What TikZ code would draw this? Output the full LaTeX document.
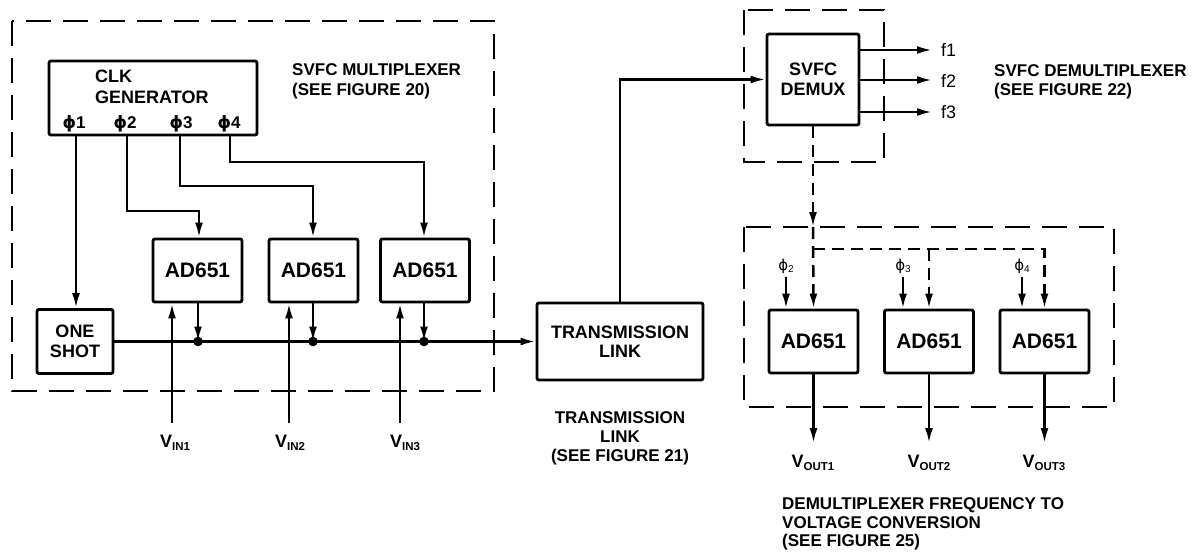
\documentclass[tikz,border=0pt]{standalone}
\usepackage{fontspec}
\setmainfont{Liberation Sans}
\newfontfamily\phifont{DejaVu Sans}
\usetikzlibrary{arrows.meta}
\newcommand\mysubtxt[2]{#1\raisebox{-3pt}{\fontsize{11.5}{12}\selectfont #2}}
\newcommand\myphi{{\phifont ϕ}}
\tikzset{
 blk/.style={draw, line width=2.9pt, rounded corners=2pt, inner sep=0pt, align=center, font=\bfseries\fontsize{18}{19.5}\selectfont},
 adbox/.style={blk, font=\bfseries\fontsize{21}{23}\selectfont, minimum width=89pt, minimum height=63pt},
 grp/.style={draw, line width=2.8pt, dash pattern=on 25pt off 12pt},
 wire/.style={line width=2.5pt},
 arr/.style={wire, -{Latex[length=15pt,width=8pt]}},
 darr/.style={arr, dash pattern=on 12pt off 7pt},
 lbl/.style={font=\bfseries\fontsize{17}{19}\selectfont, inner sep=0pt},
 sml/.style={font=\fontsize{15}{17}\selectfont, inner sep=0pt},
}
\begin{document}
\begin{tikzpicture}[x=1pt,y=-1pt]
\useasboundingbox (0,0) rectangle (1203,557);
% dashed groups
\draw[grp] (12,21) rectangle (494,391);
\draw[grp] (744,10) rectangle (884,162);
\draw[grp] (744,227) rectangle (1114,407);

% ---------- multiplexer ----------
\node[blk, minimum width=208pt, minimum height=74pt] (clk) at (153,98) {};
\node[lbl, font=\bfseries\fontsize{18}{20}\selectfont, anchor=base west] (clkt1) at (95,82) {CLK};
\node[lbl, font=\bfseries\fontsize{18}{20}\selectfont, anchor=base west] (clkt2) at (95,103) {GENERATOR};
\node[lbl, anchor=base] (ph1) at (74,128) {\myphi 1};
\node[lbl, anchor=base] (ph2) at (125,128) {\myphi 2};
\node[lbl, anchor=base] (ph3) at (181,128) {\myphi 3};
\node[lbl, anchor=base] (ph4) at (229,128) {\myphi 4};

\node[blk, minimum width=76pt, minimum height=64pt] (os) at (75,341.5) {ONE\\SHOT};
\node[adbox] (m1) at (197.5,270.5) {AD651};
\node[adbox] (m2) at (313.5,270.5) {AD651};
\node[adbox] (m3) at (425,270.5) {AD651};

\coordinate (p1) at (76,0);
\coordinate (p2) at (127,0);
\coordinate (p3) at (180,0);
\coordinate (p4) at (230,0);
\coordinate (a2) at (199,211);
\coordinate (a3) at (313,186);
\coordinate (a4) at (424,162);

\draw[arr] (clk.south -| p1) -- (os.north -| p1);
\draw[arr] (clk.south -| p2) |- (a2) -- (m1.north -| a2);
\draw[arr] (clk.south -| p3) |- (a3) -- (m2.north -| a3);
\draw[arr] (clk.south -| p4) |- (a4) -- (m3.north -| a4);

\node[blk, minimum width=166pt, minimum height=77pt] (tl) at (620,341.5) {TRANSMISSION\\LINK};
\draw[arr] (os.east) -- (os.east -| tl.west);

\coordinate (d1) at (198,341.5);
\coordinate (d2) at (313,341.5);
\coordinate (d3) at (424,341.5);
\draw[arr] (m1.south -| d1) -- (d1);
\draw[arr] (m2.south -| d2) -- (d2);
\draw[arr] (m3.south -| d3) -- (d3);
\fill (d1) circle (4.8pt);
\fill (d2) circle (4.8pt);
\fill (d3) circle (4.8pt);

\coordinate (v1) at (172,423);
\coordinate (v2) at (289,423);
\coordinate (v3) at (400,423);
\draw[arr] (v1) -- (m1.south -| v1);
\draw[arr] (v2) -- (m2.south -| v2);
\draw[arr] (v3) -- (m3.south -| v3);
\node[lbl, font=\bfseries\fontsize{18}{20}\selectfont, anchor=base] (vin1) at (175,447) {\mysubtxt{V}{IN1}};
\node[lbl, font=\bfseries\fontsize{18}{20}\selectfont, anchor=base] (vin2) at (290,447) {\mysubtxt{V}{IN2}};
\node[lbl, font=\bfseries\fontsize{18}{20}\selectfont, anchor=base] (vin3) at (405,447) {\mysubtxt{V}{IN3}};

\node[lbl, anchor=base west] (mux1) at (292,75) {SVFC MULTIPLEXER};
\node[lbl, anchor=base west] (mux2) at (292,95) {(SEE FIGURE 20)};

% ---------- transmission link label ----------
\node[lbl, anchor=base] (tt1) at (620,423) {TRANSMISSION};
\node[lbl, anchor=base] (tt2) at (620,442) {LINK};
\node[lbl, anchor=base] (tt3) at (620,461) {(SEE FIGURE 21)};

% ---------- demultiplexer ----------
\node[blk, minimum width=92pt, minimum height=91pt] (dm) at (813,79.5) {SVFC\\DEMUX};
\draw[arr] (tl.north) |- (dm.west);

\coordinate (f1c) at (932,50);
\coordinate (f2c) at (932,80);
\coordinate (f3c) at (932,112);
\draw[arr] (dm.east |- f1c) -- (f1c);
\draw[arr] (dm.east |- f2c) -- (f2c);
\draw[arr] (dm.east |- f3c) -- (f3c);
\node[lbl, font=\fontsize{18}{20}\selectfont, anchor=base west] (fl1) at (941,56) {f1};
\node[lbl, font=\fontsize{18}{20}\selectfont, anchor=base west] (fl2) at (941,87) {f2};
\node[lbl, font=\fontsize{18}{20}\selectfont, anchor=base west] (fl3) at (941,118) {f3};

\node[lbl, anchor=base west] (dmx1) at (994,76) {SVFC DEMULTIPLEXER};
\node[lbl, anchor=base west] (dmx2) at (994,95) {(SEE FIGURE 22)};

% ---------- F/V conversion ----------
\node[adbox] (r1) at (813.5,341.5) {AD651};
\node[adbox] (r2) at (929,341.5) {AD651};
\node[adbox] (r3) at (1044.5,341.5) {AD651};

\coordinate (ent) at (813,227);
\coordinate (br) at (813,249);
\draw[darr] (dm.south) -- (ent);
\draw[darr] (ent) -- (r1.north);
\draw[darr] (br) -| (r3.north);
\draw[darr] (br -| r2.north) -- (r2.north);

\node[sml, anchor=base] (q2l) at (786,270) {\myphi\raisebox{-2pt}{\fontsize{10}{11}\selectfont 2}};
\node[sml, anchor=base] (q3l) at (903,270) {\myphi\raisebox{-2pt}{\fontsize{10}{11}\selectfont 3}};
\node[sml, anchor=base] (q4l) at (1022,270) {\myphi\raisebox{-2pt}{\fontsize{10}{11}\selectfont 4}};
\coordinate (q2) at (786,277);
\coordinate (q3) at (903,277);
\coordinate (q4) at (1022,277);
\draw[arr] (q2) -- (r1.north -| q2);
\draw[arr] (q3) -- (r2.north -| q3);
\draw[arr] (q4) -- (r3.north -| q4);

\coordinate (ob) at (0,443);
\draw[arr] (r1.south) -- (r1.south |- ob);
\draw[arr] (r2.south) -- (r2.south |- ob);
\draw[arr] (r3.south) -- (r3.south |- ob);
\node[lbl, font=\bfseries\fontsize{18}{20}\selectfont, anchor=base] (vo1) at (813,467) {\mysubtxt{V}{OUT1}};
\node[lbl, font=\bfseries\fontsize{18}{20}\selectfont, anchor=base] (vo2) at (929,467) {\mysubtxt{V}{OUT2}};
\node[lbl, font=\bfseries\fontsize{18}{20}\selectfont, anchor=base] (vo3) at (1044,467) {\mysubtxt{V}{OUT3}};

\node[lbl, anchor=base west] (cv1) at (782,509) {DEMULTIPLEXER FREQUENCY TO};
\node[lbl, anchor=base west] (cv2) at (782,528) {VOLTAGE CONVERSION};
\node[lbl, anchor=base west] (cv3) at (782,546) {(SEE FIGURE 25)};
\end{tikzpicture}
\end{document}
